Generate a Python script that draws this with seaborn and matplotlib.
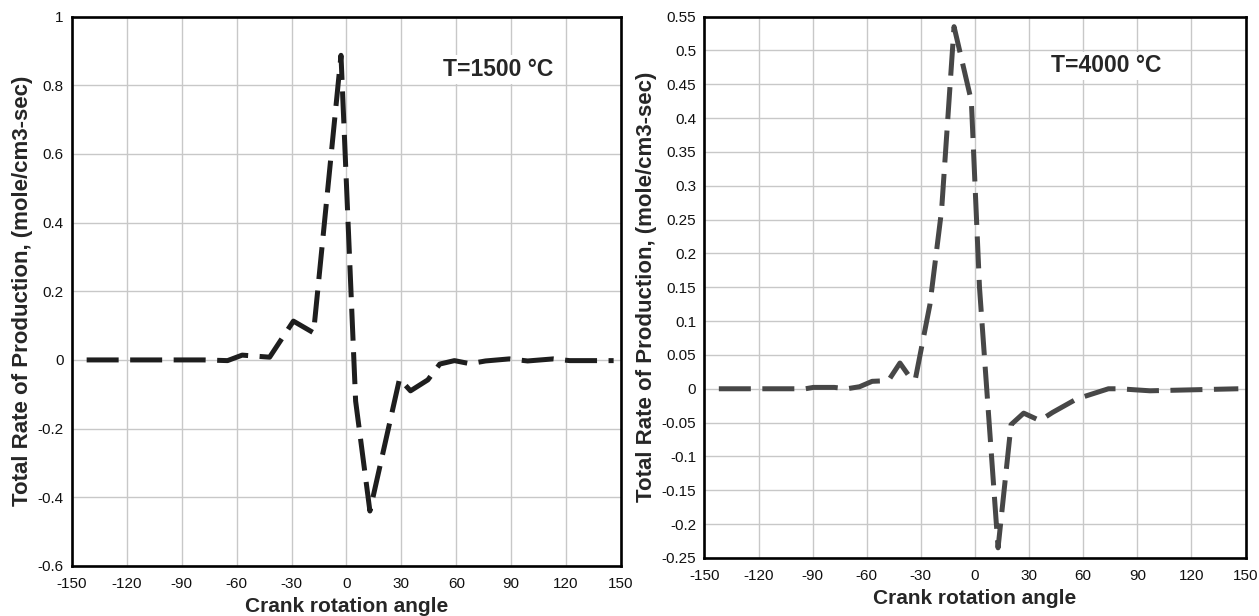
import numpy as np
import pandas as pd
import matplotlib
matplotlib.use("Agg")
import matplotlib.pyplot as plt
import seaborn as sns

# Datos
angle_1500 = [-142, -78, -65, -57, -42, -29, -18, -3, 5, 12.8, 29, 35, 44.5, 51,
              59, 67.5, 76, 89, 99, 113, 122, 146]
rate_1500 = [0, 0, -0.002, 0.014, 0.008, 0.113, 0.079, 0.887, -0.12, -0.44, -0.055,
             -0.09, -0.058, -0.012, -0.002, -0.011, -0.003, 0.003, -0.003, 0.003,
             -0.002, -0.002]

angle_4000 = [-142, -94, -89.6, -78, -71, -64, -57, -48, -41.6, -35, -33, -25,
              -18.5, -11.6, -2, 2.5, 12.8, 20, 27, 36, 43, 56.4, 74, 80, 97, 146]
rate_4000 = [0, 0, 0.002, 0.002, 0, 0.003, 0.011, 0.012, 0.038, 0.013, 0.015, 0.124,
             0.264, 0.535, 0.425, 0.15, -0.235, -0.053, -0.036, -0.047, -0.035,
             -0.015, 0, 0, -0.003, 0]

x_ticks = [-150, -120, -90, -60, -30, 0, 30, 60, 90, 120, 150]
y_ticks_1500 = [-0.6, -0.4, -0.2, 0, 0.2, 0.4, 0.6, 0.8, 1]
y_ticks_4000 = [-0.25, -0.2, -0.15, -0.1, -0.05, 0, 0.05, 0.1, 0.15, 0.2, 0.25,
                0.3, 0.35, 0.4, 0.45, 0.5, 0.55]

df1 = pd.DataFrame({"angle": angle_1500, "rate": rate_1500})
df2 = pd.DataFrame({"angle": angle_4000, "rate": rate_4000})

sns.set_style("whitegrid")
plt.rcParams["font.family"] = ["Liberation Sans", "DejaVu Sans"]

fig = plt.figure(figsize=(12.59, 6.16), dpi=100)
ax1 = fig.add_axes([0.0572, 0.0812, 0.436, 0.892])
ax2 = fig.add_axes([0.5595, 0.0942, 0.4298, 0.879])

paneles = [
    (ax1, df1, "#1e1e1e", y_ticks_1500, "T=1500 °C", (83, 0.845)),
    (ax2, df2, "#474747", y_ticks_4000, "T=4000 °C", (73, 0.477)),
]

for ax, df, color, yt, texto, pos in paneles:
    sns.lineplot(data=df, x="angle", y="rate", ax=ax, color=color,
                 linewidth=3.6, linestyle=(0, (6.4, 2.3)))
    ax.set_xlim(-150, 150)
    ax.set_ylim(yt[0], yt[-1])
    ax.set_xticks(x_ticks)
    ax.set_xticklabels([f"{v:g}" for v in x_ticks])
    ax.set_yticks(yt)
    ax.set_yticklabels([f"{v:g}" for v in yt])
    ax.tick_params(axis="y", length=0, labelsize=11, pad=6, colors="#111111")
    ax.tick_params(axis="x", length=0, labelsize=11, pad=8, colors="#111111")
    ax.grid(True, color="#c8c8c8", linewidth=1)
    for s in ax.spines.values():
        s.set_color("black")
        s.set_linewidth(1.9)
    ax.set_xlabel("Crank rotation angle", fontsize=15, fontweight="bold", labelpad=4)
    ax.set_ylabel("Total Rate of Production, (mole/cm3-sec)", fontsize=16,
                  fontweight="bold", labelpad=3)
    ax.text(pos[0], pos[1], texto, fontsize=16.5, fontweight="bold", ha="center",
            va="center", bbox=dict(facecolor="white", edgecolor="none", pad=2))

fig.savefig("out.png", dpi=100)
